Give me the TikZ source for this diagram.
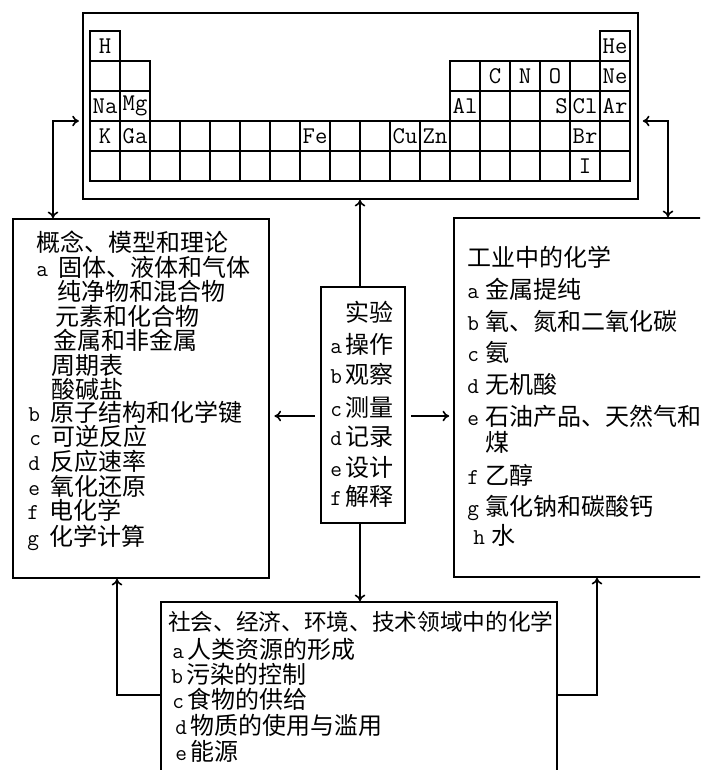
\documentclass[tikz,border=0pt]{standalone}
\usepackage{fontspec}
\newfontfamily\cjk{Noto Sans CJK SC}
\newfontfamily\lat{Latin Modern Mono}
\usetikzlibrary{arrows.meta,fit}
\newlength\lw
\newcommand\itm[1]{\makebox[\lw][l]{\lat\fontsize{17}{18}\selectfont #1}}
\tikzset{
  box/.style={draw, line width=1.2pt, inner sep=0pt},
  cell/.style={draw, line width=1pt, minimum size=22.5pt, inner sep=0pt},
  elem/.style={font=\lat\fontsize{18}{18}\selectfont, inner sep=0pt},
  txt/.style={anchor=west, inner sep=0pt, text height=15pt, text depth=2pt,
    font=\cjk\fontsize{18}{20}\selectfont},
  arr/.style={-{To[length=5pt,width=8pt]}, line width=1.2pt},
  arr2/.style={{To[length=5pt,width=8pt]}-{To[length=5pt,width=8pt]}, line width=1.2pt}
}
\begin{document}
\begin{tikzpicture}[x=0.75pt, y=-0.75pt]
  \useasboundingbox (0, 0) rectangle (700, 770);
  \clip (0, 0) rectangle (700, 770);

  \node[box, fit={(83, 13) (638, 199)}]   (tbl) {};
  \node[box, fit={(13, 219) (269, 578)}]  (concept) {};
  \node[box, fit={(321, 287) (405, 523)}] (expt) {};
  \node[box, fit={(454, 218) (760, 577)}] (industry) {};
  \node[box, fit={(161, 602) (557, 800)}] (society) {};

  % periodic table
  \foreach \c in {1,...,18} {
    \node[cell] at (75+30*\c, 136) (p4-\c) {};
    \node[cell] at (75+30*\c, 166) (p5-\c) {};
  }
  \foreach \c in {1,2,13,14,15,16,17,18} {
    \node[cell] at (75+30*\c, 76)  (p2-\c) {};
    \node[cell] at (75+30*\c, 106) (p3-\c) {};
  }
  \node[cell] at (105, 46) (p1-1) {};
  \node[cell] at (615, 46) (p1-18) {};

  \node[elem] at (p1-1)  (H)  {H};
  \node[elem] at (p1-18) (He) {He};
  \node[elem] at (p2-14) (C)  {C};
  \node[elem] at (p2-15) (N)  {N};
  \node[elem] at (p2-16) (O)  {O};
  \node[elem] at (p2-18) (Ne) {Ne};
  \node[elem] at (p3-1)  (Na) {Na};
  \node[elem] at (p3-2)  (Mg) {Mg};
  \node[elem] at (p3-13) (Al) {Al};
  \node[elem, anchor=east] at ([xshift=-2pt]p3-16.east) (S) {S};
  \node[elem] at (p3-17) (Cl) {Cl};
  \node[elem] at (p3-18) (Ar) {Ar};
  \node[elem] at (p4-1)  (K)  {K};
  \node[elem] at (p4-2)  (Ga) {Ga};
  \node[elem] at (p4-8)  (Fe) {Fe};
  \node[elem] at (p4-11) (Cu) {Cu};
  \node[elem] at (p4-12) (Zn) {Zn};
  \node[elem] at (p4-17) (Br) {Br};
  \node[elem] at (p5-17) (I)  {I};

  % box texts
  \setlength\lw{16.5pt}
  \foreach \x/\y/\t [count=\i] in {
      36/243/{概念、模型和理论},
      36/268/{\itm{a}固体、液体和气体},
      57/292/{纯净物和混合物},
      55/317/{元素和化合物},
      53/341/{金属和非金属},
      51/366/{周期表},
      51/390/{酸碱盐},
      28/413/{\itm{b}原子结构和化学键},
      29/437/{\itm{c}可逆反应},
      28/462/{\itm{d}反应速率},
      28/487/{\itm{e}氧化还原},
      27/511/{\itm{f}电化学},
      27/537/{\itm{g}化学计算}}
    \node[txt] at (\x, \y) (cpt\i) {\t};

  \setlength\lw{11.25pt}
  \foreach \x/\y/\t [count=\i] in {
      345/313/{实验},
      330/345/{\itm{a}操作},
      330/375/{\itm{b}观察},
      330/408/{\itm{c}测量},
      330/437/{\itm{d}记录},
      330/468/{\itm{e}设计},
      330/497/{\itm{f}解释}}
    \node[txt] at (\x, \y) (exp\i) {\t};

  \setlength\lw{13.5pt}
  \foreach \x/\y/\t [count=\i] in {
      467/258/{工业中的化学},
      467/290/{\itm{a}金属提纯},
      467/322/{\itm{b}氧、氮和二氧化碳},
      467/353/{\itm{c}氨},
      467/385/{\itm{d}无机酸},
      467/417/{\itm{e}石油产品、天然气和},
      485/443/{煤},
      467/476/{\itm{f}乙醇},
      467/507/{\itm{g}氯化钠和碳酸钙},
      473/536/{\itm{h}水}}
    \node[txt] at (\x, \y) (ind\i) {\t};

  \setlength\lw{11.25pt}
  \node[txt, font=\cjk\fontsize{17}{20}\selectfont] at (168, 622) (soc0)
    {社会、经济、环境、技术领域中的化学};
  \foreach \x/\y/\t [count=\i] in {
      172/650/{\itm{a}人类资源的形成},
      171/675/{\itm{b}污染的控制},
      172/700/{\itm{c}食物的供给},
      175/726/{\itm{d}物质的使用与滥用},
      175/752/{\itm{e}能源}}
    \node[txt] at (\x, \y) (soc\i) {\t};

  % connectors
  \coordinate (ex) at (360, 416);
  \coordinate (lk) at (53, 121);
  \coordinate (rk) at (668, 121);
  \coordinate (sl) at (117, 695);
  \coordinate (sr) at (597, 695);

  \draw[arr] (expt.north -| ex) -- (tbl.south -| ex);
  \draw[arr] (expt.south -| ex) -- (society.north -| ex);
  \draw[arr, shorten <=4pt, shorten >=3.5pt] (expt.west |- ex) -- (concept.east |- ex);
  \draw[arr, shorten <=4pt, shorten >=3pt] (expt.east |- ex) -- (industry.west |- ex);
  \draw[arr2, shorten <=2.5pt] (tbl.west |- lk) -- (lk) -- (lk |- concept.north);
  \draw[arr2, shorten <=3pt] (tbl.east |- rk) -- (rk) -- (rk |- industry.north);
  \draw[arr] (society.west |- sl) -- (sl) -- (sl |- concept.south);
  \draw[arr] (society.east |- sr) -- (sr) -- (sr |- industry.south);
\end{tikzpicture}
\end{document}
